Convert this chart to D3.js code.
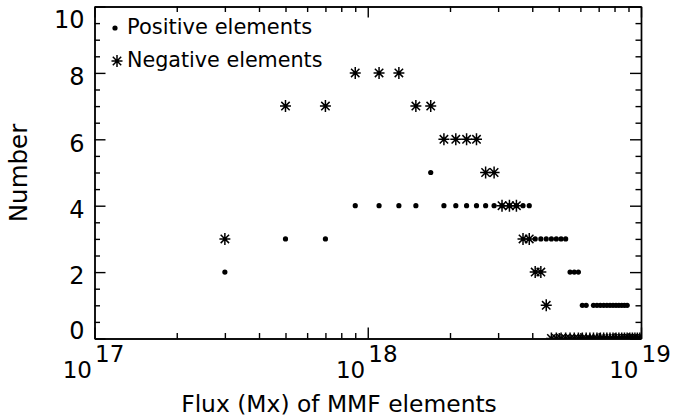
<!DOCTYPE html>
<html>
<head>
<meta charset="utf-8">
<script src="https://cdn.jsdelivr.net/npm/d3@7"></script>
<style>
  html, body { margin: 0; padding: 0; background: #fff; }
  svg { display: block; font-family: "DejaVu Sans", sans-serif; }
  .axis path, .axis line { stroke: #000; stroke-width: 1.4; }
  .axis text { fill: #000; font-size: 24px; font-family: "DejaVu Sans", sans-serif; }
</style>
</head>
<body>
<div id="chart"></div>
<script>
// Flux bin centres, in units of 1e17 Mx
const fluxBins = [3, 5, 7, 9, 11, 13, 15, 17, 19, 21, 23, 25, 27, 29, 31, 33, 35, 37, 39,
  41, 43, 45, 47, 49, 51, 53, 55, 57, 59, 61, 63, 65, 67, 69, 71, 73, 75, 77, 79,
  81, 83, 85, 87, 89, 91, 93, 95, 97, 99];

// Number of positive elements per bin
const positiveCounts = [2, 3, 3, 4, 4, 4, 4, 5, 4, 4, 4, 4, 4, 4, 4, 4, 4, 4, 4,
  3, 3, 3, 3, 3, 3, 3, 2, 2, 2, 1, 1, 0, 1, 1, 1, 1, 1, 1, 1,
  1, 1, 1, 1, 1, 0, 0, 0, 0, 0];

// Number of negative elements per bin
const negativeCounts = [3, 7, 7, 8, 8, 8, 7, 7, 6, 6, 6, 6, 5, 5, 4, 4, 4, 3, 3,
  2, 2, 1, 0, 0, 0, 0, 0, 0, 0, 0, 0, 0, 0, 0, 0, 0, 0, 0, 0,
  0, 0, 0, 0, 0, 0, 0, 0, 0, 0];

const xMajorTicks = [1e17, 1e18, 1e19];
const xMinorTicks = [2e17, 3e17, 4e17, 5e17, 6e17, 7e17, 8e17, 9e17,
  2e18, 3e18, 4e18, 5e18, 6e18, 7e18, 8e18, 9e18];
const xTickExponents = ["17", "18", "19"];
const yMajorTicks = [0, 2, 4, 6, 8, 10];
const yMinorTicks = [0.5, 1, 1.5, 2.5, 3, 3.5, 4.5, 5, 5.5, 6.5, 7, 7.5, 8.5, 9, 9.5];

const width = 675;
const height = 420;
const margin = { top: 6.5, right: 34, bottom: 81.5, left: 94.5 };
const innerWidth = width - margin.left - margin.right;
const innerHeight = height - margin.top - margin.bottom;

const positiveData = fluxBins.map((b, i) => ({ flux: b * 1e17, count: positiveCounts[i] }));
const negativeData = fluxBins.map((b, i) => ({ flux: b * 1e17, count: negativeCounts[i] }));

/*******************************/
/*    Append the containers    */
/*******************************/
const svg = d3.select("#chart")
  .append("svg")
    .attr("width", width)
    .attr("height", height);

const innerChart = svg
  .append("g")
    .attr("transform", `translate(${margin.left}, ${margin.top})`);

innerChart
  .append("clipPath")
    .attr("id", "plot-clip")
  .append("rect")
    .attr("width", innerWidth)
    .attr("height", innerHeight);

/****************************/
/*    Declare the scales    */
/****************************/
const xScale = d3.scaleLog()
  .domain([1e17, 1e19])
  .range([0, innerWidth]);

const yScale = d3.scaleLinear()
  .domain([0, 10])
  .range([innerHeight, 0]);

/***************************/
/*     Append the axes     */
/***************************/
const major = 11;
const minor = 5.5;

// Tick-only axis (no labels)
const tickAxis = (axis, values, size, dx, dy) => {
  const g = innerChart.append("g")
      .attr("class", "axis")
      .attr("transform", `translate(${dx}, ${dy})`)
      .call(axis.tickValues(values).tickSize(-size).tickSizeOuter(0));
  g.selectAll("text").remove();
  return g;
};

tickAxis(d3.axisBottom(xScale), xMajorTicks, major, 0, innerHeight);
tickAxis(d3.axisBottom(xScale), xMinorTicks, minor, 0, innerHeight);
tickAxis(d3.axisTop(xScale), xMajorTicks, major, 0, 0);
tickAxis(d3.axisTop(xScale), xMinorTicks, minor, 0, 0);
tickAxis(d3.axisLeft(yScale), yMinorTicks, minor, 0, 0);
tickAxis(d3.axisRight(yScale), yMajorTicks, major, innerWidth, 0);
tickAxis(d3.axisRight(yScale), yMinorTicks, minor, innerWidth, 0);

// Left axis with labels
const leftAxis = innerChart.append("g")
    .attr("class", "axis axis-y")
    .call(d3.axisLeft(yScale).tickValues(yMajorTicks).tickSize(-major).tickSizeOuter(0).tickPadding(10));
leftAxis.selectAll("text")
  .attr("dy", d => d === 10 ? "0.885em" : d === 0 ? "0.01em" : "0.49em");

// Power-of-ten labels
innerChart.selectAll(".x-label-base")
  .data(xMajorTicks)
  .join("text")
    .attr("class", "x-label-base")
    .attr("x", d => xScale(d) - 2.5)
    .attr("y", innerHeight + 39.5)
    .attr("text-anchor", "end")
    .style("font-size", "23px")
    .text("10");

innerChart.selectAll(".x-label-exp")
  .data(xMajorTicks)
  .join("text")
    .attr("class", "x-label-exp")
    .attr("x", d => xScale(d) + 0.5)
    .attr("y", innerHeight + 23)
    .attr("text-anchor", "start")
    .style("font-size", "23px")
    .text((d, i) => xTickExponents[i]);

/*****************************/
/*       Data markers        */
/*****************************/
const marks = innerChart.append("g")
    .attr("clip-path", "url(#plot-clip)");

const asteriskPath = "M0,-6V6M-5.5,0H5.5M-4.2,-4.2L4.2,4.2M-4.2,4.2L4.2,-4.2";

marks.selectAll(".negative")
  .data(negativeData)
  .join("path")
    .attr("class", "negative")
    .attr("d", asteriskPath)
    .attr("transform", d => `translate(${xScale(d.flux)}, ${yScale(d.count)})`)
    .attr("fill", "none")
    .attr("stroke", "#000")
    .attr("stroke-width", 1.5);

marks.selectAll(".positive")
  .data(positiveData)
  .join("circle")
    .attr("class", "positive")
    .attr("r", 2.6)
    .attr("cx", d => xScale(d.flux))
    .attr("cy", d => yScale(d.count))
    .attr("fill", "#000");

/*****************************/
/*          Legend           */
/*****************************/
svg.append("circle")
    .attr("cx", 115)
    .attr("cy", 28)
    .attr("r", 2.6)
    .attr("fill", "#000");
svg.append("text")
    .attr("x", 127)
    .attr("y", 34)
    .style("font-size", "21px")
    .text("Positive elements");

svg.append("path")
    .attr("d", asteriskPath)
    .attr("transform", "translate(117, 61)")
    .attr("fill", "none")
    .attr("stroke", "#000")
    .attr("stroke-width", 1.5);
svg.append("text")
    .attr("x", 127)
    .attr("y", 67)
    .style("font-size", "20.7px")
    .text("Negative elements");

/*****************************/
/*        Axis titles        */
/*****************************/
svg.append("text")
    .attr("transform", "translate(27, 173) rotate(-90)")
    .attr("text-anchor", "middle")
    .style("font-size", "24.5px")
    .text("Number");

svg.append("text")
    .attr("x", 339)
    .attr("y", 412)
    .attr("text-anchor", "middle")
    .style("font-size", "23.4px")
    .text("Flux (Mx) of MMF elements");
</script>
</body>
</html>
